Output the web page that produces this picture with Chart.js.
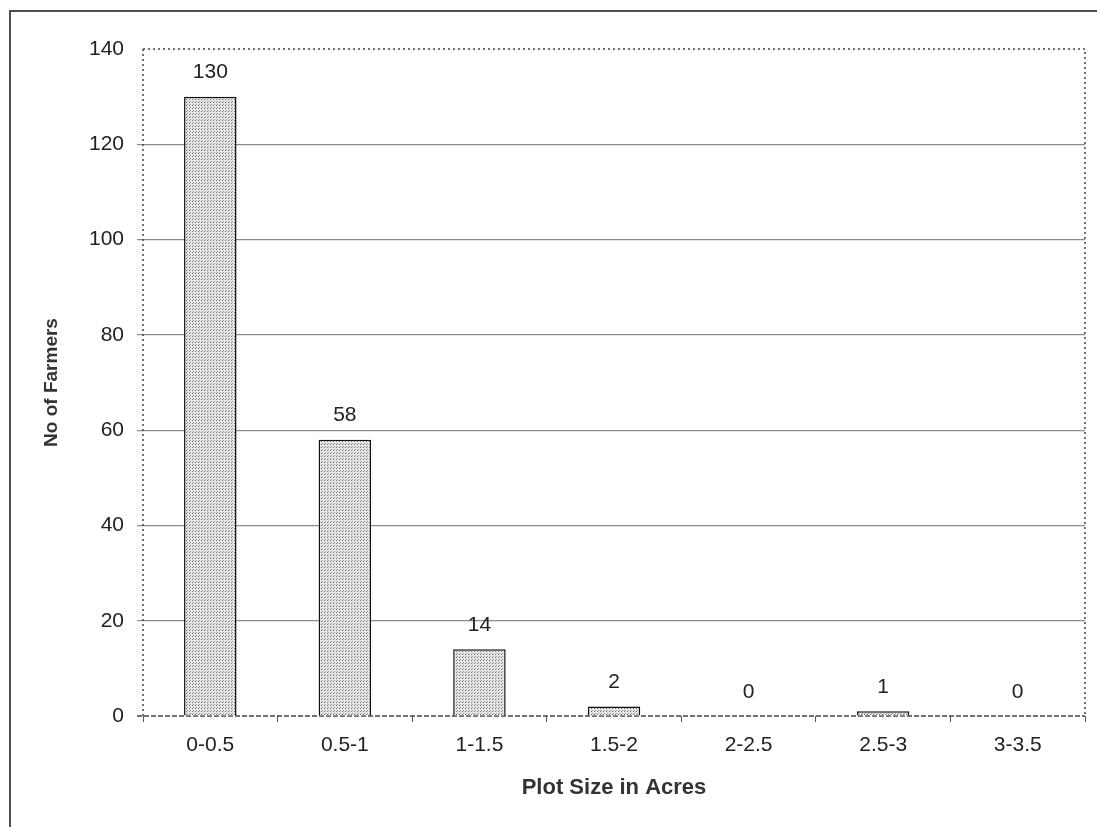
<!DOCTYPE html>
<html>
<head>
<meta charset="utf-8">
<script src="https://cdn.jsdelivr.net/npm/chart.js@4"></script>
<style>
  html, body { margin: 0; padding: 0; background: #fff; }
  #wrap { position: relative; width: 1097px; height: 827px; }
  #frame { position: absolute; left: 9px; top: 10px; right: 0; bottom: 0;
           border-top: 2px solid #4a5054; border-left: 2px solid #4a5054; }
  canvas { position: absolute; left: 0; top: 0; }
</style>
</head>
<body>
<div id="wrap">
  <div id="frame"></div>
  <canvas id="chart" width="1097" height="827"></canvas>
</div>
<script>
const categories = ['0-0.5', '0.5-1', '1-1.5', '1.5-2', '2-2.5', '2.5-3', '3-3.5'];
const farmers = [130, 58, 14, 2, 0, 1, 0];
const yTicks = [0, 20, 40, 60, 80, 100, 120, 140];

const FONT = '"Liberation Sans", Arial, sans-serif';

// dotted fill used for the bars
const makeDots = () => {
  const c = document.createElement('canvas');
  c.width = 3;
  c.height = 3;
  const g = c.getContext('2d');
  g.fillStyle = '#e6e6e6';
  g.fillRect(0, 0, 3, 3);
  g.fillStyle = '#6e6e6e';
  g.fillRect(0, 0, 1, 1);
  g.fillStyle = '#9a9a9a';
  g.fillRect(1, 2, 1, 1);
  return g.createPattern(c, 'repeat');
};

const plotFrame = {
  id: 'plotFrame',
  beforeDatasetsDraw(chart) {
    const { ctx, chartArea: a } = chart;
    ctx.save();
    ctx.strokeStyle = '#444';
    ctx.lineWidth = 1.5;
    ctx.setLineDash([2, 3]);
    ctx.beginPath();
    ctx.moveTo(a.left, a.top);
    ctx.lineTo(a.right, a.top);
    ctx.lineTo(a.right, a.bottom);
    ctx.moveTo(a.left, a.top);
    ctx.lineTo(a.left, a.bottom);
    ctx.stroke();
    ctx.setLineDash([5, 2]);
    ctx.beginPath();
    ctx.moveTo(a.left - 6, a.bottom);
    ctx.lineTo(a.right, a.bottom);
    ctx.stroke();
    ctx.restore();
  },
};

const valueLabels = {
  id: 'valueLabels',
  afterDatasetsDraw(chart) {
    const { ctx } = chart;
    const meta = chart.getDatasetMeta(0);
    ctx.save();
    ctx.fillStyle = '#222';
    ctx.font = '21px ' + FONT;
    ctx.textAlign = 'center';
    ctx.textBaseline = 'middle';
    meta.data.forEach((bar, i) => {
      ctx.fillText(String(farmers[i]), bar.x, bar.y - 24);
    });
    ctx.restore();
  },
};

new Chart(document.getElementById('chart'), {
  type: 'bar',
  data: {
    labels: categories,
    datasets: [{
      data: farmers,
      backgroundColor: makeDots(),
      borderColor: '#111',
      borderWidth: 1.5,
      categoryPercentage: 1,
      barPercentage: 0.39,
    }],
  },
  plugins: [plotFrame, valueLabels],
  options: {
    responsive: false,
    animation: false,
    layout: { padding: { top: 49, right: 12, bottom: 0, left: 0 } },
    plugins: { legend: { display: false }, tooltip: { enabled: false } },
    scales: {
      x: {
        afterFit: s => { s.height = 111; },
        grid: { offset: true, drawOnChartArea: false, tickLength: 6, color: '#555' },
        border: { display: false },
        ticks: { color: '#222', padding: 11, font: { family: FONT, size: 21 } },
        title: {
          display: true,
          text: 'Plot Size in Acres',
          color: '#333',
          padding: { top: 0, bottom: 26 },
          font: { family: FONT, size: 22, weight: 'bold' },
        },
      },
      y: {
        min: 0,
        max: 140,
        afterFit: s => { s.width = 143; },
        afterBuildTicks: s => { s.ticks = yTicks.map(v => ({ value: v })); },
        grid: {
          tickLength: 6,
          lineWidth: 1.2,
          color: c => (c.tick && (c.tick.value === 0 || c.tick.value === 140) ? 'rgba(0,0,0,0)' : '#7f8e99'),
        },
        border: { display: false },
        ticks: { color: '#222', padding: 13, font: { family: FONT, size: 21 } },
        title: {
          display: true,
          text: 'No of Farmers',
          color: '#333',
          padding: { top: 40, bottom: 0 },
          font: { family: FONT, size: 19, weight: 'bold' },
        },
      },
    },
  },
});
</script>
</body>
</html>
